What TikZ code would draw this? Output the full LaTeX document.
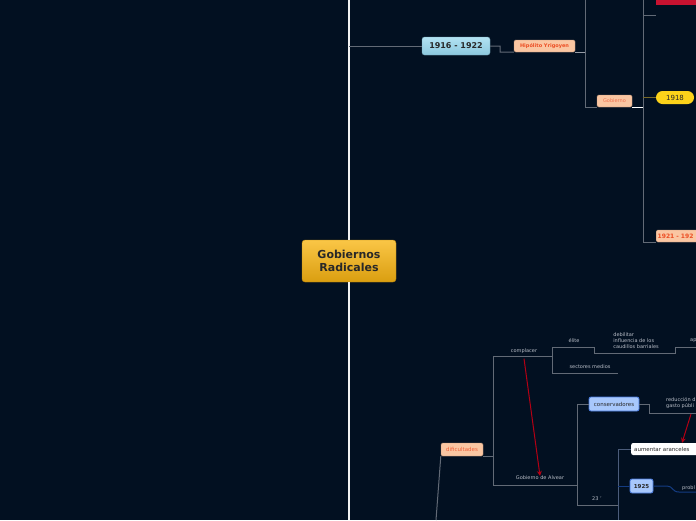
\documentclass[tikz,border=0pt]{standalone}
\usepackage{fontspec}
\setmainfont{DejaVu Sans}
\usetikzlibrary{arrows.meta, positioning, calc}
\definecolor{bgnavy}{RGB}{2,16,33}
\definecolor{linegrey}{RGB}{98,106,118}
\definecolor{lightgrey}{RGB}{150,156,166}
\definecolor{textgrey}{RGB}{185,190,200}
\definecolor{darktext}{RGB}{40,40,40}
\definecolor{goldtop}{RGB}{250,198,70}
\definecolor{goldbot}{RGB}{218,158,16}
\definecolor{skytop}{RGB}{178,226,242}
\definecolor{skybot}{RGB}{140,200,222}
\definecolor{peach}{RGB}{250,198,162}
\definecolor{peachtext}{RGB}{236,78,36}
\definecolor{pillyellow}{RGB}{252,210,26}
\definecolor{olive}{RGB}{120,105,40}
\definecolor{crimson}{RGB}{200,18,48}
\definecolor{lightblue}{RGB}{168,200,252}
\definecolor{blueedge}{RGB}{70,120,220}
\definecolor{navyline}{RGB}{20,60,130}
\definecolor{arrowred}{RGB}{180,0,20}
\tikzset{
    topic/.style={rectangle, rounded corners=3pt, top color=goldtop, bottom color=goldbot, draw=goldbot!85!black, text=darktext, font=\bfseries\fontsize{11}{12.5}\selectfont, align=center, minimum width=94pt, minimum height=42pt},
    trunk/.style={draw=white!90!gray, line width=2pt},
    link/.style={draw=linegrey, line width=1pt},
    yearbox/.style={rectangle, rounded corners=2.5pt, top color=skytop, bottom color=skybot, draw=skybot!80!black, text=darktext, font=\bfseries\fontsize{8}{9}\selectfont, minimum width=68pt, minimum height=18pt, inner sep=0pt},
    peachbox/.style={rectangle, rounded corners=1.5pt, fill=peach, draw=peach!75!black, text=peachtext, font=\bfseries\fontsize{5}{6}\selectfont, minimum height=12pt, inner sep=1.5pt},
    pillbox/.style={rectangle, rounded corners=6.5pt, fill=pillyellow, text=darktext, font=\fontsize{7}{8}\selectfont, minimum width=38pt, minimum height=13pt, inner sep=0pt},
    bluebox/.style={rectangle, rounded corners=2pt, fill=lightblue, draw=blueedge, line width=0.8pt, text=darktext, font=\fontsize{5.5}{6}\selectfont, minimum height=14pt, inner sep=1.5pt},
    whitebox/.style={rectangle, rounded corners=2pt, fill=white, text=darktext, font=\fontsize{5.5}{6}\selectfont, minimum height=12pt, inner sep=2pt},
    leaf/.style={text=textgrey, font=\fontsize{5}{6}\selectfont, inner sep=0pt, align=left},
    redarrow/.style={draw=arrowred, line width=1pt, -{Stealth[length=5pt, width=5pt]}}
}
\begin{document}
\begin{tikzpicture}[x=1pt, y=-1pt]
    \useasboundingbox (0,0) rectangle (696,520);
    \fill[bgnavy] (0,0) rectangle (696,520);
    \clip (0,0) rectangle (696,520);

    % Central topic and trunk
    \node[topic] (root) at (349,261) {Gobiernos\\ Radicales};
    \coordinate (trunktop) at (349,0);
    \coordinate (trunkbot) at (349,520);
    \draw[trunk] (trunktop) -- (root.north);
    \draw[trunk] (root.south) -- (trunkbot);

    % Upper branch: 1916 - 1922
    \node[yearbox] (y1916) at (456,46) {1916 - 1922};
    \node[peachbox, minimum width=61pt] (hipolito) at (544.5,46) {Hipólito Yrigoyen};
    \node[peachbox, text=peachtext!80!white, font=\fontsize{5}{6}\selectfont, minimum width=35pt] (gobierno) at (614.5,101) {Gobierno};
    \node[pillbox] (y1918) at (675,97.5) {1918};
    \node[peachbox, font=\bfseries\fontsize{6}{7}\selectfont, anchor=west, text width=45pt, align=left] (y1921) at (656,236) {1921 - 192};
    \node[rectangle, fill=crimson, anchor=south west, minimum width=50pt, minimum height=12pt] (topred) at (656,5.5) {};

    \coordinate (hipfork) at (585,0);
    \coordinate (govfork) at (643,0);
    \draw[link] (349,46) -- (y1916.west);
    \draw[link] (y1916.east) -- (500,46) -- (500,52) -- (hipolito.south west);
    \draw[link, draw=lightgrey, line width=1.3pt] (hipolito.south east) -- (hipolito.south east -| hipfork);
    \draw[link] (hipfork) -- (hipfork |- gobierno.south) -- (gobierno.south west);
    \draw[link, draw=white] (gobierno.south east) -- (gobierno.south east -| govfork);
    \draw[link] (govfork) -- (govfork |- y1921.south) -- (y1921.south west);
    \draw[link] (govfork |- 0,15) -- (656,15);
    \draw[link, draw=olive] (govfork |- y1918.west) -- (y1918.west);

    % Lower branch: dificultades
    \node[peachbox, font=\fontsize{5.5}{6.5}\selectfont, text=peachtext!90!white, minimum width=42pt, minimum height=13pt] (dificultades) at (462,449.5) {dificultades};
    \node[leaf] (complacer) at (524,351) {complacer};
    \node[leaf] (alvear) at (540,478) {Gobierno de Alvear};
    \node[leaf] (elite) at (574,341) {élite};
    \node[leaf] (debilitar) at (636,341) {debilitar\\influencia de los\\caudillos barriales};
    \node[leaf, anchor=west] (ap) at (690,341) {ap};
    \node[leaf] (medios) at (590,367) {sectores medios};
    \node[bluebox, minimum width=50pt] (conservadores) at (614,404) {conservadores};
    \node[leaf, anchor=west] (reduccion) at (666,403.5) {reducción d\\gasto públi};
    \node[whitebox, anchor=west, minimum width=70pt, text width=64pt, align=left] (aranceles) at (631,449) {aumentar aranceles};
    \node[bluebox, font=\bfseries\fontsize{5.5}{6}\selectfont, minimum width=23pt] (y1925) at (641.5,486) {1925};
    \node[leaf, anchor=west] (probl) at (682,488) {probl};
    \node[leaf] (veintitres) at (597,499) {23 '};

    \coordinate (difroot) at (436,520);
    \coordinate (difbar) at (493,0);
    \coordinate (compbar) at (552,0);
    \coordinate (alvbar) at (577,0);
    \coordinate (arbar) at (618,0);
    \draw[link] (difroot) -- (dificultades.south west);
    \draw[link] (dificultades.south east) -- (dificultades.south east -| difbar);
    \draw[link] (difbar |- 0,356) -- (difbar |- 0,485);
    \draw[link] (difbar |- 0,356) -- (compbar |- 0,356);
    \draw[link] (difbar |- 0,485) -- (alvbar |- 0,485);
    \draw[link] (compbar |- 0,347) -- (compbar |- 0,373) -- (618,373);
    \draw[link] (compbar |- 0,347) -- (594,347) -- (594,353) -- (675,353) -- (675,347) -- (696,347);
    \draw[link] (alvbar |- 0,404) -- (alvbar |- 0,505) -- (arbar |- 0,505);
    \draw[link] (alvbar |- 0,404) -- (conservadores.west);
    \draw[link] (conservadores.east) -- (649,404) -- (649,413) -- (696,413);
    \draw[link, draw=linegrey!70!navyline] (arbar |- aranceles.west) -- (arbar |- 0,520);
    \draw[link, draw=linegrey!70!navyline] (arbar |- aranceles.west) -- (aranceles.west);
    \draw[link, draw=navyline] (arbar |- y1925.west) -- (y1925.west);
    \draw[link, draw=navyline] (y1925.east) -- (667,486) .. controls (673,486) and (672,492) .. (679,492) -- (696,492);

    % Cross links
    \draw[redarrow] (complacer.south) ++(0,5) -- (alvear.north);
    \draw[redarrow] (691,414) -- (aranceles.north -| 682,0);
\end{tikzpicture}
\end{document}
